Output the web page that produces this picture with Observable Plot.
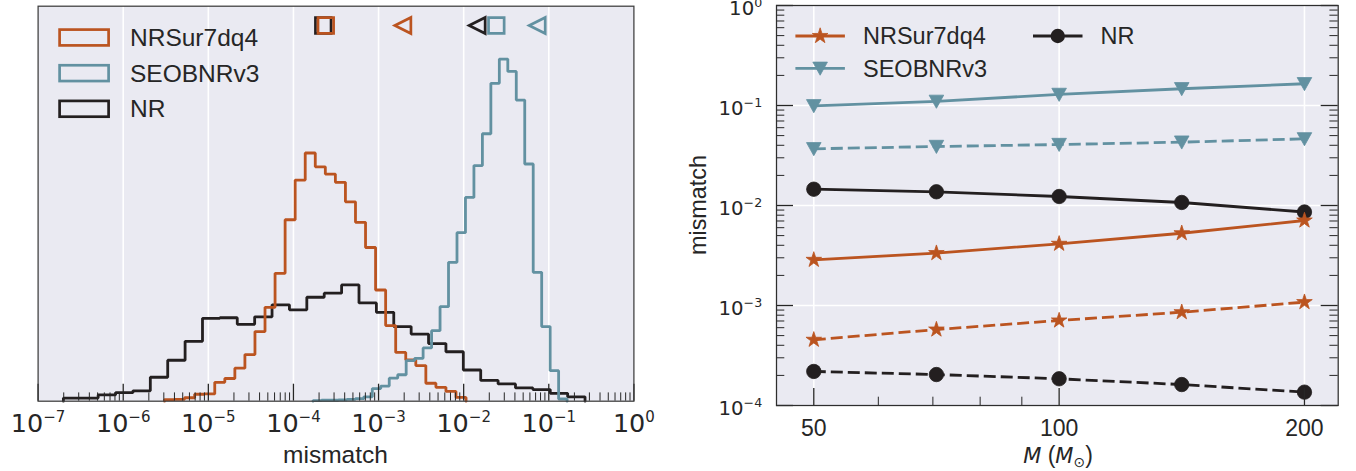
<!DOCTYPE html>
<html>
<head>
<meta charset="utf-8">
<script src="https://cdn.jsdelivr.net/npm/d3@7"></script>
<script src="https://cdn.jsdelivr.net/npm/@observablehq/plot@0.6"></script>
<style>
  body { margin: 0; background: #fff; }
  #wrap { position: relative; width: 1356px; height: 471px; overflow: hidden; }
  #left { position: absolute; left: 0; top: 0; }
  #right { position: absolute; left: 680px; top: 0; }
</style>
</head>
<body>
<div id="wrap"><div id="left"></div><div id="right"></div></div>
<script>
// ---------------- data ----------------
const seriesNames = ["NRSur7dq4", "SEOBNRv3", "NR"];
const seriesColors = ["#bb5420", "#6291a1", "#231f20"];

// Left panel: step histograms (density in log10(mismatch)), 30 bins over each series' log10 range
const nrsurLogRange = [-5.515, -1.972];
const nrsurDensity = [0.005, 0.006, 0.011, 0.022, 0.023, 0.060, 0.072, 0.105, 0.148, 0.221,
  0.298, 0.406, 0.576, 0.702, 0.788, 0.744, 0.721, 0.695, 0.633, 0.568,
  0.488, 0.353, 0.240, 0.155, 0.131, 0.113, 0.057, 0.044, 0.031, 0.012];
const seobLogRange = [-3.770, -0.785];
const seobDensity = [0.002, 0.003, 0.003, 0.004, 0.006, 0.008, 0.014, 0.040, 0.048, 0.073,
  0.084, 0.129, 0.136, 0.169, 0.224, 0.300, 0.441, 0.535, 0.647, 0.748,
  0.849, 1.009, 1.086, 1.047, 0.956, 0.753, 0.409, 0.237, 0.097, 0.007];
const nrLogRange = [-6.703, -0.574];
const nrDensity = [0.010, 0.010, 0.020, 0.027, 0.033, 0.076, 0.130, 0.190, 0.263, 0.265,
  0.244, 0.268, 0.306, 0.290, 0.330, 0.343, 0.369, 0.312, 0.282, 0.237,
  0.213, 0.183, 0.157, 0.099, 0.066, 0.055, 0.042, 0.037, 0.025, 0.014];

// Summary markers above the histograms (square = median, triangle = 90th percentile)
const medianMismatch = [2.40e-4, 2.42e-2, 2.24e-4];   // NRSur7dq4, SEOBNRv3, NR
const p90Mismatch = [1.93e-3, 7.31e-2, 1.44e-2];

// Right panel: mismatch vs total mass
const totalMass = [50, 70.7, 100, 141.4, 200];
const nrsurSolid = [2.86e-3, 3.34e-3, 4.14e-3, 5.28e-3, 7.08e-3];
const nrsurDashed = [4.54e-4, 5.75e-4, 7.08e-4, 8.57e-4, 1.08e-3];
const seobSolid = [0.0993, 0.110, 0.129, 0.147, 0.165];
const seobDashed = [0.0369, 0.0389, 0.0407, 0.0430, 0.0464];
const nrSolid = [0.01455, 0.01371, 0.01230, 0.01072, 0.00861];
const nrDashed = [2.19e-4, 2.04e-4, 1.85e-4, 1.62e-4, 1.36e-4];

// tick values
const leftMajorTicks = [1e-7, 1e-6, 1e-5, 1e-4, 1e-3, 1e-2, 1e-1, 1];
const massMajorTicks = [50, 100, 200];
const massMinorTicks = [60, 70, 80, 90];
const mismatchMajorTicks = [1e-4, 1e-3, 1e-2, 1e-1, 1];

// ---------------- helpers ----------------
const TEXT = "#262626";
const SANS = "'Liberation Sans', Arial, sans-serif";
const MATH = "'DejaVu Sans', sans-serif";
const DASH = "12,5";
const LINEW = 2.8;
const minorOf = (lo, hi) => { const out = []; for (let n = lo; n < hi; n++) for (let k = 2; k <= 9; k++) out.push(k * Math.pow(10, n)); return out; };
const sym = (fn) => ({ draw(ctx, size) { fn(ctx, Math.sqrt(size / Math.PI)); } });
const squareSym = sym((c, h) => { c.moveTo(-h, -h); c.lineTo(h, -h); c.lineTo(h, h); c.lineTo(-h, h); c.closePath(); });
const triLeftSym = sym((c, h) => { c.moveTo(-h, 0); c.lineTo(h, -h); c.lineTo(h, h); c.closePath(); });
const triDownSym = sym((c, h) => { c.moveTo(0, h * 0.95); c.lineTo(-h, -h * 0.85); c.lineTo(h, -h * 0.85); c.closePath(); });
const fmtPow = d => "10^" + Math.round(Math.log10(d));

function stepPoints(range, dens) {
  const n = dens.length, w = (range[1] - range[0]) / n;
  const pts = [{x: Math.pow(10, range[0]), y: 0}];
  dens.forEach((d, i) => pts.push({x: Math.pow(10, range[0] + i * w), y: d}));
  pts.push({x: Math.pow(10, range[1]), y: 0});
  return pts;
}
function superscriptify(svg, supSize, raise) {
  d3.select(svg).selectAll('g[aria-label$="tick label"] text').each(function () {
    const s = this.textContent;
    if (!s.includes("^")) return;
    const [b, e] = s.split("^");
    const t = d3.select(this);
    t.text(null);
    t.append("tspan").text(b);
    t.append("tspan").attr("font-size", supSize).attr("dy", -raise).text(e.replace("-", "\u2212"));
  });
}

// ---------------- left panel ----------------
const LW = 680, LH = 471, LmL = 37.6, LmR = 46.6, LmT = 5.7, LmB = 70.3;
const LplotH = LH - LmT - LmB;
const histSets = [
  {name: "NR", range: nrLogRange, dens: nrDensity, color: seriesColors[2], med: medianMismatch[2], p90: p90Mismatch[2]},
  {name: "NRSur7dq4", range: nrsurLogRange, dens: nrsurDensity, color: seriesColors[0], med: medianMismatch[0], p90: p90Mismatch[0]},
  {name: "SEOBNRv3", range: seobLogRange, dens: seobDensity, color: seriesColors[1], med: medianMismatch[1], p90: p90Mismatch[1]}
];
const histMarks = [];
for (const s of histSets) {
  histMarks.push(Plot.line(stepPoints(s.range, s.dens), {x: "x", y: "y", curve: "step-after", stroke: s.color, strokeWidth: LINEW, strokeLinejoin: "miter"}));
}
for (const s of histSets) {
  histMarks.push(Plot.dot([s.p90], {x: d => d, frameAnchor: "top", dy: 19.3, symbol: triLeftSym, r: 8, stroke: s.color, fill: "none", strokeWidth: 2.7, strokeLinejoin: "miter"}));
  histMarks.push(Plot.dot([s.med], {x: d => d, frameAnchor: "top", dy: 19.3, symbol: squareSym, r: 7.8, stroke: s.color, fill: "none", strokeWidth: 2.7, strokeLinejoin: "miter"}));
}
const leftPlot = Plot.plot({
  width: LW, height: LH, marginLeft: LmL, marginRight: LmR, marginTop: LmT, marginBottom: LmB,
  style: {background: "transparent", overflow: "visible", fontFamily: SANS},
  x: {type: "log", domain: [1e-7, 1]},
  y: {domain: [0, 1.254], axis: null},
  marks: [
    Plot.frame({fill: "#eaeaf2", stroke: null}),
    Plot.gridX({ticks: leftMajorTicks.slice(1, -1), stroke: "#ffffff", strokeOpacity: 1, strokeWidth: 1.6}),
    ...histMarks,
    Plot.tickX(minorOf(-7, 0), {x: d => d, insetTop: LplotH - 8.3, stroke: "#262626", strokeWidth: 1}),
    Plot.tickX(leftMajorTicks, {x: d => d, insetTop: LplotH - 17, stroke: "#262626", strokeWidth: 1.3}),
    Plot.axisX({ticks: leftMajorTicks, tickFormat: fmtPow, tickSize: 0, tickPadding: 12.8, fontSize: 25.5, fontFamily: MATH, color: TEXT, label: null}),
    Plot.frame({stroke: "#3d3d3d", strokeWidth: 1.25})
  ]
});
superscriptify(leftPlot, 15, 10.2);
{
  const g = d3.select(leftPlot).append("g").attr("text-anchor", "start");
  g.append("text").attr("x", 335.5).attr("y", 463.3).attr("text-anchor", "middle")
    .attr("font-family", SANS).attr("font-size", 24.5).attr("fill", TEXT).text("mismatch");
  [0, 1, 2].forEach((si, i) => {
    const cy = 37.5 + i * 35.65;
    g.append("rect").attr("x", 59.6).attr("y", cy - 7.9).attr("width", 49).attr("height", 15.8)
      .attr("fill", "none").attr("stroke", seriesColors[si]).attr("stroke-width", 2.7);
    g.append("text").attr("x", 130).attr("y", cy + 8.6).attr("text-anchor", "start")
      .attr("font-family", SANS).attr("font-size", 24.5).attr("fill", TEXT).text(seriesNames[si]);
  });
}
document.getElementById("left").appendChild(leftPlot);

// ---------------- right panel ----------------
const RW = 676, RH = 471, RmL = 96, RmR = 18.3, RmT = 5, RmB = 66;
const RplotH = RH - RmT - RmB, RplotW = RW - RmL - RmR;
const lineSets = [
  {vals: nrDashed, color: seriesColors[2], dash: DASH, symbol: "circle", r: 7.2},
  {vals: nrSolid, color: seriesColors[2], dash: null, symbol: "circle", r: 7.2},
  {vals: nrsurDashed, color: seriesColors[0], dash: DASH, symbol: "star", r: 4.9},
  {vals: nrsurSolid, color: seriesColors[0], dash: null, symbol: "star", r: 4.9},
  {vals: seobDashed, color: seriesColors[1], dash: DASH, symbol: triDownSym, r: 7.3},
  {vals: seobSolid, color: seriesColors[1], dash: null, symbol: triDownSym, r: 7.3}
];
const lineMarks = [];
for (const s of lineSets) {
  const rows = totalMass.map((m, i) => ({m, v: s.vals[i]}));
  lineMarks.push(Plot.line(rows, {x: "m", y: "v", stroke: s.color, strokeWidth: LINEW, strokeDasharray: s.dash, strokeLinecap: "butt", strokeLinejoin: "round"}));
  lineMarks.push(Plot.dot(rows, {x: "m", y: "v", symbol: s.symbol, r: s.r, fill: s.color, stroke: s.color, strokeWidth: 0.8}));
}
const rightPlot = Plot.plot({
  width: RW, height: RH, marginLeft: RmL, marginRight: RmR, marginTop: RmT, marginBottom: RmB,
  style: {background: "transparent", overflow: "visible", fontFamily: SANS},
  x: {type: "log", domain: [45, 220]},
  y: {type: "log", domain: [1e-4, 1]},
  marks: [
    Plot.frame({fill: "#eaeaf2", stroke: null}),
    Plot.gridX({ticks: massMajorTicks, stroke: "#ffffff", strokeOpacity: 1, strokeWidth: 1.6}),
    Plot.gridY({ticks: [1e-3, 1e-2, 1e-1], stroke: "#ffffff", strokeOpacity: 1, strokeWidth: 1.6}),
    ...lineMarks,
    Plot.tickX(massMinorTicks, {x: d => d, insetTop: RplotH - 8.3, stroke: "#262626", strokeWidth: 1}),
    Plot.tickX(massMajorTicks, {x: d => d, insetTop: RplotH - 17, stroke: "#262626", strokeWidth: 1.3}),
    Plot.tickY(minorOf(-4, 0), {y: d => d, insetRight: RplotW - 8.3, stroke: "#262626", strokeWidth: 1}),
    Plot.tickY(mismatchMajorTicks, {y: d => d, insetRight: RplotW - 17, stroke: "#262626", strokeWidth: 1.3}),
    Plot.tickY(minorOf(-4, 0), {y: d => d, insetLeft: RplotW - 8.3, stroke: "#262626", strokeWidth: 1}),
    Plot.tickY(mismatchMajorTicks, {y: d => d, insetLeft: RplotW - 17, stroke: "#262626", strokeWidth: 1.3}),
    Plot.axisX({ticks: massMajorTicks, tickFormat: d => String(d), tickSize: 0, tickPadding: 14.4, fontSize: 23, fontFamily: SANS, color: TEXT, label: null}),
    Plot.axisY({ticks: mismatchMajorTicks, tickFormat: fmtPow, tickSize: 0, tickPadding: 14.3, dy: 2.8, fontSize: 19.7, fontFamily: MATH, color: TEXT, label: null}),
    Plot.frame({stroke: "#2e2e2e", strokeWidth: 1.25})
  ]
});
superscriptify(rightPlot, 12.6, 8);
{
  const g = d3.select(rightPlot).append("g").attr("text-anchor", "start");
  g.append("text").attr("transform", "translate(26,205) rotate(-90)").attr("text-anchor", "middle")
    .attr("font-family", SANS).attr("font-size", 23.4).attr("fill", TEXT).text("mismatch");
  const xl = g.append("text").attr("x", 378).attr("y", 463.3).attr("text-anchor", "middle")
    .attr("font-family", SANS).attr("font-size", 23).attr("fill", TEXT);
  xl.append("tspan").attr("font-family", MATH).attr("font-style", "italic").attr("font-size", 21).text("M");
  xl.append("tspan").text(" (");
  xl.append("tspan").attr("font-family", MATH).attr("font-style", "italic").attr("font-size", 21).text("M");
  xl.append("tspan").attr("font-family", MATH).attr("font-size", 14).attr("dy", 4).text("\u2299");
  xl.append("tspan").attr("dy", -4).text(")");
  const items = [
    {name: seriesNames[0], color: seriesColors[0], symbol: d3.symbolStar, r: 4.9, x: 115.4, y: 36},
    {name: seriesNames[1], color: seriesColors[1], symbol: triDownSym, r: 7.3, x: 115.4, y: 68.3},
    {name: seriesNames[2], color: seriesColors[2], symbol: null, r: 7.2, x: 353, y: 36}
  ];
  for (const it of items) {
    g.append("line").attr("x1", it.x).attr("x2", it.x + 49.5).attr("y1", it.y).attr("y2", it.y)
      .attr("stroke", it.color).attr("stroke-width", LINEW);
    const cx = it.x + 24.75;
    if (it.symbol) {
      g.append("path").attr("transform", `translate(${cx},${it.y})`)
        .attr("d", d3.symbol(it.symbol, Math.PI * it.r * it.r)())
        .attr("fill", it.color).attr("stroke", it.color).attr("stroke-width", 0.8);
    } else {
      g.append("circle").attr("cx", cx).attr("cy", it.y).attr("r", it.r).attr("fill", it.color);
    }
    g.append("text").attr("x", it.x + 67.6).attr("y", it.y + 8.4).attr("text-anchor", "start")
      .attr("font-family", SANS).attr("font-size", 23.5).attr("fill", TEXT).text(it.name);
  }
}
document.getElementById("right").appendChild(rightPlot);
</script>
</body>
</html>
